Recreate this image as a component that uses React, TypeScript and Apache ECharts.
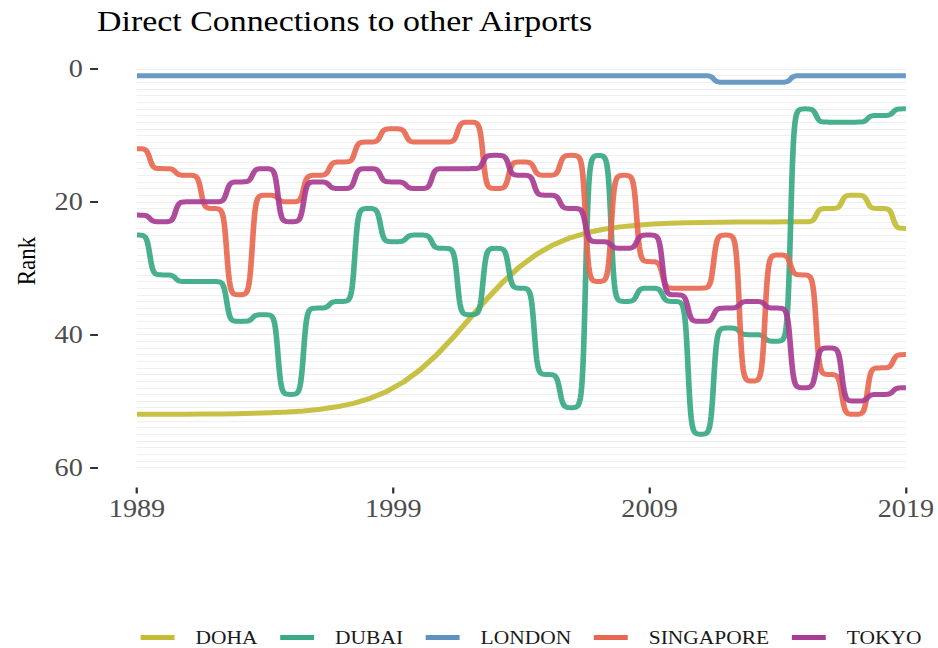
import React, { useEffect, useRef } from "react";
import * as echarts from "echarts";

// ---- data (rank per year; null = no data) ----
const years = [
  1989, 1990, 1991, 1992, 1993, 1994, 1995, 1996, 1997, 1998,
  1999, 2000, 2001, 2002, 2003, 2004, 2005, 2006, 2007, 2008,
  2009, 2010, 2011, 2012, 2013, 2014, 2015, 2016, 2017, 2018, 2019,
];

const doha = [
  52, null, null, null, null, null, null, null, null, null,
  null, null, null, null, null, null, null, null, null, null,
  null, null, null, null, null, null, 23, 21, 19, 21, 24,
];

const dubai = [
  25, 31, 32, 32, 38, 37, 49, 36, 35, 21,
  26, 25, 27, 37, 27, 33, 46, 51, 13, 35,
  33, 35, 55, 39, 40, 41, 6, 8, 8, 7, 6,
];

const london = [
  1, 1, 1, 1, 1, 1, 1, 1, 1, 1,
  1, 1, 1, 1, 1, 1, 1, 1, 1, 1,
  1, 1, 1, 2, 2, 2, 1, 1, 1, 1, 1,
];

const singapore = [
  12, 15, 16, 21, 34, 19, 20, 16, 14, 11,
  9, 11, 11, 8, 18, 14, 16, 13, 32, 16,
  29, 33, 33, 25, 47, 28, 31, 46, 52, 45, 43,
];

const tokyo = [
  22, 23, 20, 20, 17, 15, 23, 17, 18, 15,
  17, 18, 15, 15, 13, 16, 19, 21, 26, 27,
  25, 34, 38, 36, 35, 36, 48, 42, 50, 49, 48,
];

const seriesNames = ["DOHA", "DUBAI", "LONDON", "SINGAPORE", "TOKYO"];
const seriesValues = [doha, dubai, london, singapore, tokyo];
const seriesColors = ["#C2BD35", "#3AA986", "#5E93C0", "#E8684F", "#A83C93"];

const xTickValues = [1989, 1999, 2009, 2019];
const yTickValues = [0, 20, 40, 60];

const titleText = "Direct Connections to other Airports";
const yAxisTitle = "Rank";

// ---- layout ----
const S = 1.13; // horizontal stretch of the whole picture
const W0 = 938 / S;
const H = 648;
const FONT = "'Liberation Serif', 'Times New Roman', serif";
const SMOOTH = 8; // bump (sigmoid) steepness, as in ggbump
const STEPS = 40;

// sigmoid connector between consecutive (already projected) points
echarts.graphic.registerShape(
  "bumpLine",
  echarts.graphic.extendShape({
    shape: { points: [] as number[][] },
    buildPath(ctx: any, shape: any) {
      const p = shape.points;
      if (!p || !p.length) return;
      ctx.moveTo(p[0][0], p[0][1]);
      for (let i = 1; i < p.length; i++) {
        const a = p[i - 1];
        const b = p[i];
        const dx = b[0] - a[0];
        const dy = b[1] - a[1];
        for (let j = 1; j <= STEPS; j++) {
          const u = j / STEPS;
          const s = -SMOOTH + 2 * SMOOTH * u;
          const f = 1 / (1 + Math.exp(-s));
          ctx.lineTo(a[0] + u * dx, a[1] + f * dy);
        }
      }
    },
  }) as any
);

export default function App() {
  const ref = useRef<HTMLDivElement>(null);

  useEffect(() => {
    if (!ref.current) return;
    const chart = echarts.init(ref.current, null, { renderer: "svg" });

    const series = seriesNames.map((name, si) => {
      const vals = seriesValues[si];
      const data: number[][] = [];
      years.forEach((y, i) => {
        if (vals[i] !== null && vals[i] !== undefined) data.push([y, vals[i] as number]);
      });
      return {
        type: "custom",
        name,
        data,
        clip: false,
        itemStyle: { color: seriesColors[si] },
        renderItem: (params: any, api: any) => {
          if (params.dataIndex !== 0) return null;
          const pts = data.map((d) => api.coord(d));
          return {
            type: "bumpLine",
            shape: { points: pts },
            style: {
              stroke: seriesColors[si],
              lineWidth: 5,
              fill: "none",
              opacity: 0.92,
              lineJoin: "round",
            },
          };
        },
      };
    });

    const gridLeft = 137 / S;
    const gridRight = W0 - 906 / S;
    const keyW = 30;
    const keyGap = 13.6;
    const keyH = 5;
    const legendIcon = `path://M0,0 L${keyW},0 L${keyW},${keyH} L0,${keyH} Z M${keyW + keyGap},0 L${keyW + keyGap},${keyH}`;

    chart.setOption({
      animation: false,
      backgroundColor: "#ffffff",
      title: {
        text: titleText,
        left: 97 / S,
        top: 6,
        padding: 0,
        textStyle: {
          fontFamily: FONT,
          fontSize: 30,
          fontWeight: "normal",
          color: "#000000",
        },
      },
      grid: {
        left: gridLeft,
        right: gridRight,
        top: 69,
        bottom: H - 467.5,
        containLabel: false,
      },
      xAxis: {
        type: "value",
        position: "bottom",
        min: xTickValues[0],
        max: xTickValues[xTickValues.length - 1],
        interval: xTickValues[1] - xTickValues[0],
        offset: 20,
        axisLine: { show: false, onZero: false },
        axisTick: { show: true, length: 6, lineStyle: { color: "#333333", width: 2 } },
        axisLabel: {
          fontFamily: FONT,
          fontSize: 25,
          color: "#4D4D4D",
          margin: 9,
          formatter: (v: number) => String(v),
        },
        splitLine: { show: false },
      },
      yAxis: {
        type: "value",
        inverse: true,
        min: yTickValues[0],
        max: yTickValues[yTickValues.length - 1],
        interval: yTickValues[1] - yTickValues[0],
        offset: 34.5,
        axisLine: { show: false, onZero: false },
        axisTick: { show: true, length: 7, lineStyle: { color: "#333333", width: 2 } },
        axisLabel: {
          fontFamily: FONT,
          fontSize: 25,
          color: "#4D4D4D",
          margin: 13.5,
        },
        splitLine: { show: true, lineStyle: { color: "#EFEFEF", width: 1 } },
        minorTick: { show: false, splitNumber: 20 },
        minorSplitLine: { show: true, lineStyle: { color: "#EFEFEF", width: 1 } },
      },
      legend: {
        left: 135 / S,
        top: 623,
        icon: legendIcon,
        itemWidth: keyW + keyGap,
        itemHeight: keyH,
        itemGap: 20,
        textStyle: {
          fontFamily: FONT,
          fontSize: 19,
          color: "#1A1A1A",
        },
        data: seriesNames.map((n, i) => ({ name: n, itemStyle: { color: seriesColors[i] } })),
      },
      graphic: [
        {
          type: "text",
          x: 26 / S,
          y: 261,
          rotation: Math.PI / 2,
          style: {
            text: yAxisTitle,
            fontFamily: FONT,
            fontSize: 23,
            fill: "#000000",
            align: "center",
            verticalAlign: "middle",
          },
        },
      ],
      series,
    } as any);

    return () => chart.dispose();
  }, []);

  return (
    <div
      ref={ref}
      style={{
        position: "fixed",
        left: 0,
        top: 0,
        width: W0 + "px",
        height: H + "px",
        transform: `scaleX(${S})`,
        transformOrigin: "0 0",
        background: "#ffffff",
      }}
    />
  );
}
